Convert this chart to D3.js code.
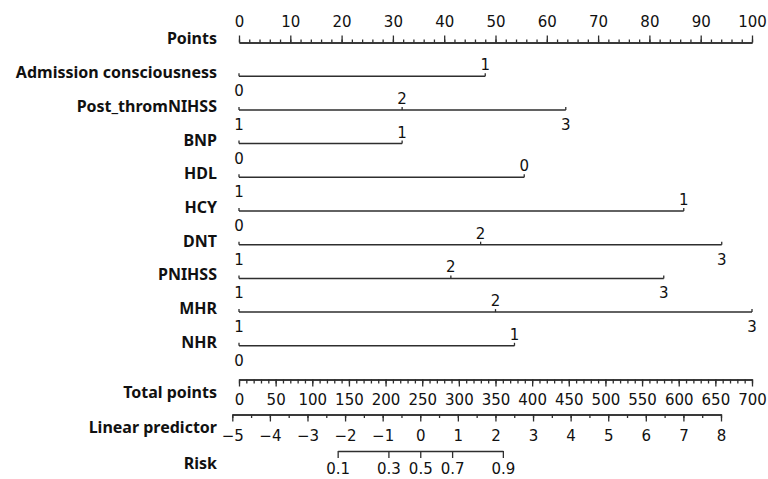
<!DOCTYPE html>
<html>
<head>
<meta charset="utf-8">
<script src="https://cdn.jsdelivr.net/npm/d3@7"></script>
<style>
  body { margin: 0; background: #fff; }
</style>
</head>
<body>
<div id="chart"></div>
<script>
// nomogram values
const varNames = ["Admission consciousness", "Post_thromNIHSS", "BNP", "HDL", "HCY", "DNT", "PNIHSS", "MHR", "NHR"];
const varLevels = [["0", "1"], ["1", "2", "3"], ["0", "1"], ["1", "0"], ["0", "1"], ["1", "2", "3"], ["1", "2", "3"], ["1", "2", "3"], ["0", "1"]];
const varPoints = [[0, 48], [0, 31.8, 63.7], [0, 31.8], [0, 55.6], [0, 86.7], [0, 47.1, 94.1], [0, 41.3, 82.8], [0, 50, 100], [0, 53.7]];

const pointsTicks = [0, 10, 20, 30, 40, 50, 60, 70, 80, 90, 100];
const totalTicks = [0, 50, 100, 150, 200, 250, 300, 350, 400, 450, 500, 550, 600, 650, 700];
const lpTicks = [-5, -4, -3, -2, -1, 0, 1, 2, 3, 4, 5, 6, 7, 8];
const riskTicks = [0.1, 0.3, 0.5, 0.7, 0.9];

const W = 768, H = 479;
const numFont = "'DejaVu Sans', sans-serif";
const labFont = "'Noto Sans', sans-serif";
const ink = "#2e2e2e";

const svg = d3.select("#chart").append("svg")
  .attr("width", W)
  .attr("height", H);

// x scales
const x = d3.scaleLinear().domain([0, 100]).range([239, 752]);
const xTotal = d3.scaleLinear().domain([0, 700]).range([239, 752]);
const xLp = d3.scaleLinear().domain([-5, 8]).range([232.3, 721]);
const logit = p => Math.log(p / (1 - p));

// row positions
const rows = ["Points"].concat(varNames, ["Total points"]);
const y = d3.scalePoint().domain(rows).range([42.5, 379.5]);
const yLp = y("Total points") + 35;
const yRisk = y("Total points") + 71.5;

function styleAxis(g) {
  g.select(".domain").attr("stroke", ink).attr("stroke-width", 1.5);
  g.selectAll(".tick line").attr("stroke", ink).attr("stroke-width", 1.3);
  g.selectAll("text")
    .attr("fill", "#111")
    .style("font-family", numFont)
    .style("font-size", "15px");
}

function rowLabel(text, yy) {
  svg.append("text")
    .attr("x", 217)
    .attr("y", yy)
    .attr("text-anchor", "end")
    .style("font-family", labFont)
    .style("font-weight", "bold")
    .style("font-size", "16px")
    .attr("fill", "#111")
    .text(text);
}

// Points axis (ticks up, labels above)
svg.append("g")
  .attr("transform", `translate(0,${y("Points")})`)
  .call(d3.axisTop(x).tickValues(d3.range(0, 101, 2)).tickSize(3).tickSizeOuter(0).tickFormat(""))
  .call(styleAxis);
svg.append("g")
  .attr("transform", `translate(0,${y("Points")})`)
  .call(d3.axisTop(x).tickValues(pointsTicks).tickSize(7).tickSizeOuter(0))
  .call(styleAxis)
  .call(g => g.selectAll("text").attr("y", -15.5).attr("dy", null));
rowLabel("Points", y("Points") + 1);

// variable rows
varNames.forEach((name, i) => {
  const yy = y(name);
  const pts = varPoints[i];
  const g = svg.append("g");
  g.append("line")
    .attr("x1", x(d3.min(pts)))
    .attr("x2", x(d3.max(pts)))
    .attr("y1", yy)
    .attr("y2", yy)
    .attr("stroke", ink)
    .attr("stroke-width", 1.5);
  pts.forEach((p, j) => {
    g.append("line")
      .attr("x1", x(p)).attr("x2", x(p))
      .attr("y1", yy).attr("y2", yy - 3)
      .attr("stroke", ink)
      .attr("stroke-width", 1.3);
    // labels alternate below / above
    g.append("text")
      .attr("x", x(p))
      .attr("y", j % 2 === 0 ? yy + 20 : yy - 6)
      .attr("text-anchor", "middle")
      .style("font-family", numFont)
      .style("font-size", "15px")
      .attr("fill", "#111")
      .text(varLevels[i][j]);
  });
  rowLabel(name, yy + 2);
});

// Total points
svg.append("g")
  .attr("transform", `translate(0,${y("Total points")})`)
  .call(d3.axisBottom(xTotal).tickValues(d3.range(0, 701, 10)).tickSize(4).tickSizeOuter(0).tickFormat(""))
  .call(styleAxis);
svg.append("g")
  .attr("transform", `translate(0,${y("Total points")})`)
  .call(d3.axisBottom(xTotal).tickValues(totalTicks).tickSize(7).tickSizeOuter(0))
  .call(styleAxis)
  .call(g => g.selectAll("text").attr("y", 25).attr("dy", null));
rowLabel("Total points", y("Total points") + 18);

// Linear predictor
svg.append("g")
  .attr("transform", `translate(0,${yLp})`)
  .call(d3.axisBottom(xLp).tickValues(d3.range(-5, 8.01, 0.5)).tickSize(3.5).tickSizeOuter(0).tickFormat(""))
  .call(styleAxis);
svg.append("g")
  .attr("transform", `translate(0,${yLp})`)
  .call(d3.axisBottom(xLp).tickValues(lpTicks).tickSize(7).tickSizeOuter(0).tickFormat(d3.format("d")))
  .call(styleAxis)
  .call(g => g.selectAll("text").attr("y", 26).attr("dy", null));
rowLabel("Linear predictor", yLp + 18);

// Risk on the linear predictor scale
const xRisk = d3.scaleLinear()
  .domain([riskTicks[0], riskTicks[riskTicks.length - 1]].map(logit))
  .range([riskTicks[0], riskTicks[riskTicks.length - 1]].map(p => xLp(logit(p))));
svg.append("g")
  .attr("transform", `translate(0,${yRisk})`)
  .call(d3.axisBottom(xRisk).tickValues(riskTicks.map(logit)).tickSize(7).tickSizeOuter(0)
    .tickFormat((d, i) => riskTicks[i]))
  .call(styleAxis)
  .call(g => g.selectAll("text").attr("y", 23).attr("dy", null));
rowLabel("Risk", yRisk + 18);
</script>
</body>
</html>
